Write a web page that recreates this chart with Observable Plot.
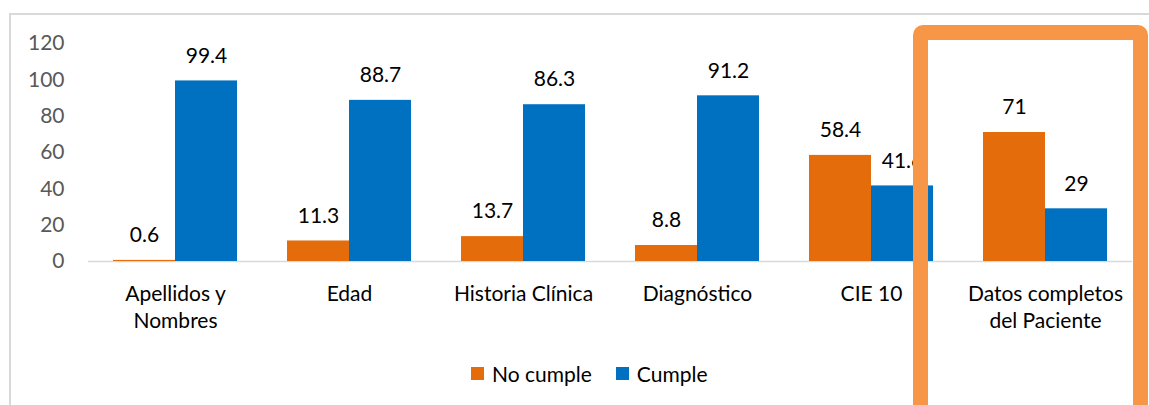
<!DOCTYPE html>
<html><head><meta charset="utf-8">
<script src="https://cdn.jsdelivr.net/npm/d3@7"></script>
<script src="https://cdn.jsdelivr.net/npm/@observablehq/plot@0.6"></script>
<style>
html,body{margin:0;padding:0;background:#fff;}
#wrap{position:relative;width:1149px;height:405px;overflow:hidden;font-family:Lato,sans-serif;}
#frame{position:absolute;left:9px;top:13px;right:-10px;bottom:-10px;border-top:2px solid #D9D9D9;border-left:2px solid #D9D9D9;pointer-events:none;}
#chart{position:absolute;left:0;top:0;}
#chart svg{display:block;}
#legend{position:absolute;left:471px;top:358px;height:30px;display:flex;align-items:center;}
#legend > div{margin:0 !important;min-height:0 !important;}
#legend span{margin-right:24px !important;}
#legend svg{margin-right:8px !important;}
#box{position:absolute;left:913px;top:25px;width:235px;height:420px;box-sizing:border-box;border:15px solid #F79646;border-radius:10px;}
</style></head><body>
<div id="wrap"><div id="frame"></div><div id="chart"></div><div id="legend"></div><div id="box"></div></div>
<script>
const categories = ["Apellidos y Nombres", "Edad", "Historia Clínica", "Diagnóstico", "CIE 10", "Datos completos del Paciente"];
const tickLabels = ["Apellidos y\nNombres", "Edad", "Historia Clínica", "Diagnóstico", "CIE 10", "Datos completos\ndel Paciente"];
const series = ["No cumple", "Cumple"];
const colors = ["#E46C0A", "#0070C0"];
const noCumple = [0.6, 11.3, 13.7, 8.8, 58.4, 71];
const cumple = [99.4, 88.7, 86.3, 91.2, 41.6, 29];
const yTicks = [0, 20, 40, 60, 80, 100, 120];

const data = categories.flatMap((c, i) => [
  {cat: c, serie: series[0], value: noCumple[i]},
  {cat: c, serie: series[1], value: cumple[i]}
]);

const plot = Plot.plot({
  width: 1149, height: 345,
  marginTop: 43, marginBottom: 84, marginLeft: 87, marginRight: 16,
  style: {fontFamily: "Lato, sans-serif", fontSize: "21px", background: "transparent", overflow: "visible"},
  fx: {domain: categories, padding: 0, label: null},
  x: {domain: series, paddingInner: 0, paddingOuter: 0.383, axis: null},
  y: {domain: [0, 120], label: null},
  color: {domain: series, range: colors},
  marks: [
    Plot.ruleY([0], {stroke: "#D9D9D9", strokeWidth: 1.5}),
    Plot.barY(data, {fx: "cat", x: "serie", y: "value", fill: "serie"}),
    Plot.text(data, {fx: "cat", x: "serie", y: "value", text: d => String(d.value), dy: -25, fill: "#000", fontSize: 21}),
    Plot.axisY({ticks: yTicks, tickSize: 0, tickPadding: 24, fill: "#595959", fontSize: 21, label: null}),
    Plot.axisFx({anchor: "bottom", tickSize: 0, tickPadding: 20, tickFormat: c => tickLabels[categories.indexOf(c)], fontSize: 21, lineHeight: 1.3, fill: "#000", label: null})
  ]
});
document.getElementById("chart").appendChild(plot);

const legend = Plot.legend({
  legend: "swatches",
  color: {type: "categorical", domain: series, range: colors},
  swatchSize: 13,
  style: {fontFamily: "Lato, sans-serif", fontSize: "21px", color: "#000", background: "transparent"}
});
document.getElementById("legend").appendChild(legend);
</script>
</body></html>
